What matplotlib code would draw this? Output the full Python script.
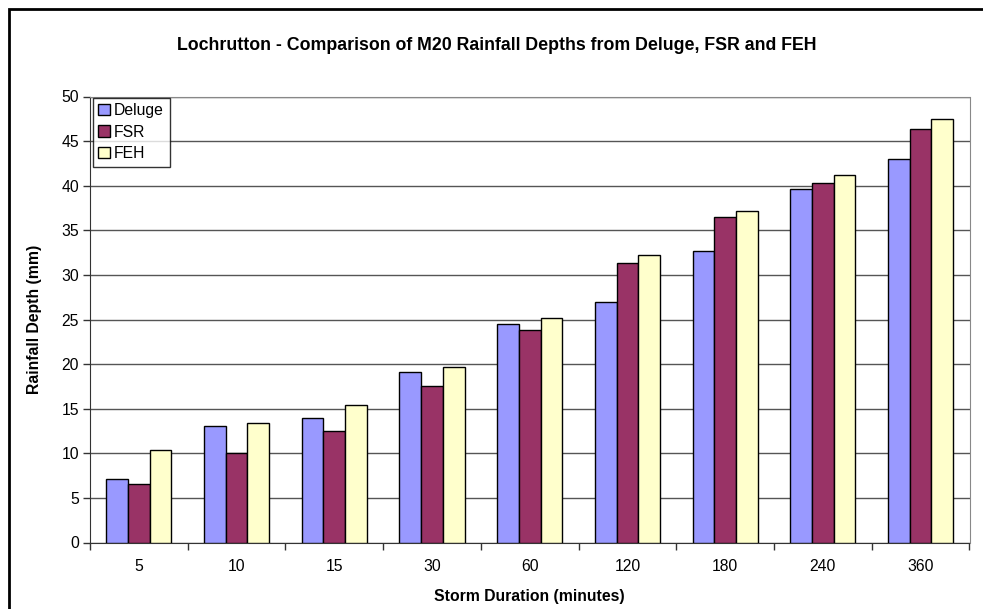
import numpy as np
import matplotlib.pyplot as plt
from matplotlib.patches import Rectangle

plt.rcParams['font.family'] = ['Liberation Sans', 'DejaVu Sans']

# M20 rainfall depths (mm)
durations = ['5', '10', '15', '30', '60', '120', '180', '240', '360']
deluge = [7.1, 13.1, 14.0, 19.1, 24.55, 27.0, 32.65, 39.6, 42.95]
fsr = [6.55, 10.0, 12.55, 17.6, 23.8, 31.35, 36.45, 40.35, 46.4]
feh = [10.4, 13.35, 15.45, 19.7, 25.2, 32.2, 37.2, 41.15, 47.5]

series = [('Deluge', deluge, '#9999FF'),
          ('FSR', fsr, '#993366'),
          ('FEH', feh, '#FFFFCC')]

W, H = 983, 609
fig = plt.figure(figsize=(W / 100, H / 100), dpi=100)

# outer chart border (only top and left visible in the original)
fig.patches.append(Rectangle((9 / W, -0.1), 1.2, 1 - 9 / H + 0.1,
                             transform=fig.transFigure, fill=False,
                             edgecolor='black', linewidth=2))

left, right, top, bottom = 90, 969.5, 96.5, 542.5
ax = fig.add_axes([left / W, 1 - bottom / H, (right - left) / W, (bottom - top) / H])

x = np.arange(len(durations))
bw = 0.222
for i, (name, vals, col) in enumerate(series):
    ax.bar(x + (i - 1) * bw, vals, width=bw, color=col, edgecolor='black',
           linewidth=1, label=name, zorder=3)

ax.set_xlim(-0.5, len(durations) - 0.5)
ax.set_ylim(0, 50)
ax.set_yticks(np.arange(0, 51, 5))
ax.yaxis.grid(True, color='#555555', linewidth=1, zorder=0)

ax.set_xticks(x)
ax.set_xticklabels(durations, fontsize=11.3)
ax.set_xticks(np.arange(-0.5, len(durations), 1), minor=True)
ax.tick_params(axis='x', which='major', length=0, pad=12)
ax.tick_params(axis='x', which='minor', length=5, width=1, color='#333333', direction='out')
ax.tick_params(axis='y', length=5, width=1, color='#333333', labelsize=11.3, pad=3)

for s in ['top', 'right']:
    ax.spines[s].set_color('#888888')
for s in ['left', 'bottom']:
    ax.spines[s].set_color('#333333')

ax.set_xlabel('Storm Duration (minutes)', fontsize=11.3, fontweight='bold', labelpad=11)
ax.set_ylabel('Rainfall Depth (mm)', fontsize=11.3, fontweight='bold', labelpad=14)

fig.text(497 / W, 1 - 45 / H,
         'Lochrutton - Comparison of M20 Rainfall Depths from Deluge, FSR and FEH',
         ha='center', va='center', fontsize=12.8, fontweight='bold')

leg = ax.legend(loc='upper left', bbox_to_anchor=(3 / (right - left), 1 - 1 / (bottom - top)),
                fontsize=11.3, frameon=True, fancybox=False, borderaxespad=0,
                handlelength=0.75, handleheight=0.75, handletextpad=0.25,
                labelspacing=0.42, borderpad=0.35)
leg.get_frame().set_edgecolor('black')
leg.get_frame().set_linewidth(1)

fig.savefig('out.png', dpi=100)
